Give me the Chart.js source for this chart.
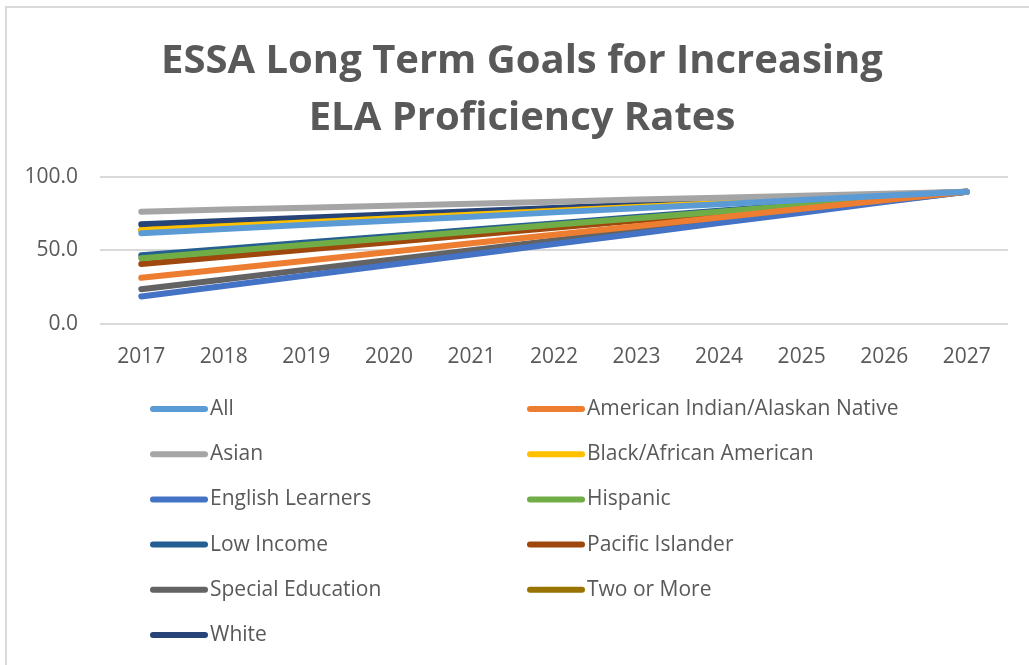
<!DOCTYPE html>
<html>
<head>
<meta charset="utf-8">
<script src="https://cdn.jsdelivr.net/npm/chart.js@4.4.0/dist/chart.umd.min.js"></script>
<style>
body{margin:0;background:#fff;}
#wrap{width:1029px;height:665px;position:relative;}
</style>
</head>
<body>
<div id="wrap"><canvas id="grafica"></canvas></div>
<script>

const years = ["2017","2018","2019","2020","2021","2022","2023","2024","2025","2026","2027"];

const seriesNames = [
"All","American Indian/Alaskan Native","Asian","Black/African American",
"English Learners","Hispanic","Low Income","Pacific Islander",
"Special Education","Two or More","White"
];

const seriesColors = [
"#5b9bd5","#ed7d31","#a5a5a5","#ffc000",
"#4472c4","#70ad47","#255e91","#9e480e",
"#636363","#997300","#264478"
];

const all = [61.7,64.5,67.4,70.2,73.0,75.9,78.7,81.5,84.3,87.2,90.0];
const americanIndian = [31.3,37.2,43.0,48.9,54.8,60.7,66.5,72.4,78.3,84.1,90.0];
const asian = [76.4,77.8,79.1,80.5,81.8,83.2,84.6,85.9,87.3,88.6,90.0];
const black = [63.8,66.4,69.0,71.7,74.3,76.9,79.5,82.1,84.8,87.4,90.0];
const englishLearners = [18.6,25.7,32.9,40.0,47.2,54.3,61.4,68.6,75.7,82.9,90.0];
const hispanic = [44.7,49.2,53.8,58.3,62.8,67.4,71.9,76.4,80.9,85.5,90.0];
const lowIncome = [46.7,51.0,55.4,59.7,64.0,68.4,72.7,77.0,81.3,85.7,90.0];
const pacificIslander = [40.8,45.7,50.6,55.6,60.5,65.4,70.3,75.2,80.2,85.1,90.0];
const specialEd = [23.6,30.2,36.9,43.5,50.2,56.8,63.4,70.1,76.7,83.4,90.0];
const twoOrMore = [63.9,66.5,69.1,71.7,74.3,77.0,79.6,82.2,84.8,87.4,90.0];
const white = [67.8,70.0,72.2,74.5,76.7,78.9,81.1,83.3,85.6,87.8,90.0];

const seriesValues = [all,americanIndian,asian,black,englishLearners,hispanic,
lowIncome,pacificIslander,specialEd,twoOrMore,white];

const yTicks = [0,50,100];

const titulo = ["ESSA Long Term Goals for Increasing","ELA Proficiency Rates"];

const gris = "#595959";
const fuente = "'Open Sans', sans-serif";

/* marco, titulo y leyenda en dos columnas */
const leyenda = {
id:"leyenda",
afterDraw(chart){
const ctx = chart.ctx;
ctx.save();
ctx.strokeStyle = "#d9d9d9";
ctx.lineWidth = 2;
ctx.beginPath();
ctx.moveTo(6,665);
ctx.lineTo(6,7);
ctx.lineTo(1029,7);
ctx.stroke();

ctx.fillStyle = gris;
ctx.textAlign = "center";
ctx.textBaseline = "middle";
ctx.font = "bold 40px " + fuente;
titulo.forEach((t,i)=>{
ctx.fillText(t, 522, 62 + i*57);
});

ctx.textAlign = "left";
ctx.font = "21px " + fuente;
ctx.lineCap = "round";
ctx.lineWidth = 6;
chart.data.datasets.forEach((ds,i)=>{
const col = i % 2;
const fila = Math.floor(i / 2);
const x = col === 0 ? 153 : 530;
const y = 409 + fila * 45.2;
ctx.strokeStyle = ds.borderColor;
ctx.beginPath();
ctx.moveTo(x,y);
ctx.lineTo(x+52,y);
ctx.stroke();
ctx.fillText(ds.label, x+57, y);
});
ctx.restore();
}
};

new Chart(document.getElementById("grafica"),{
type:"line",
data:{
labels:years,
datasets:seriesNames.map((n,i)=>({
label:n,
data:seriesValues[i],
borderColor:seriesColors[i],
backgroundColor:seriesColors[i],
borderWidth:6,
borderCapStyle:"round",
pointRadius:0,
tension:0
}))
},
options:{
responsive:true,
maintainAspectRatio:false,
animation:false,
layout:{padding:{left:8,right:21,top:177,bottom:282}},
plugins:{
legend:{display:false},
tooltip:{enabled:false},
title:{display:false}
},
scales:{
x:{
offset:true,
grid:{display:false},
border:{display:false},
ticks:{color:gris,font:{family:fuente,size:21},padding:13,maxRotation:0}
},
y:{
min:0,
max:100,
afterBuildTicks(scale){
scale.ticks = yTicks.map(v=>({value:v}));
},
afterFit(scale){
scale.width = 92;
},
grid:{color:"#d9d9d9",lineWidth:2,drawTicks:false},
border:{display:false},
ticks:{
color:gris,
font:{family:fuente,size:21},
padding:22,
callback:v=>v.toFixed(1)
}
}
}
},
plugins:[leyenda]
});

</script>
</body>
</html>
